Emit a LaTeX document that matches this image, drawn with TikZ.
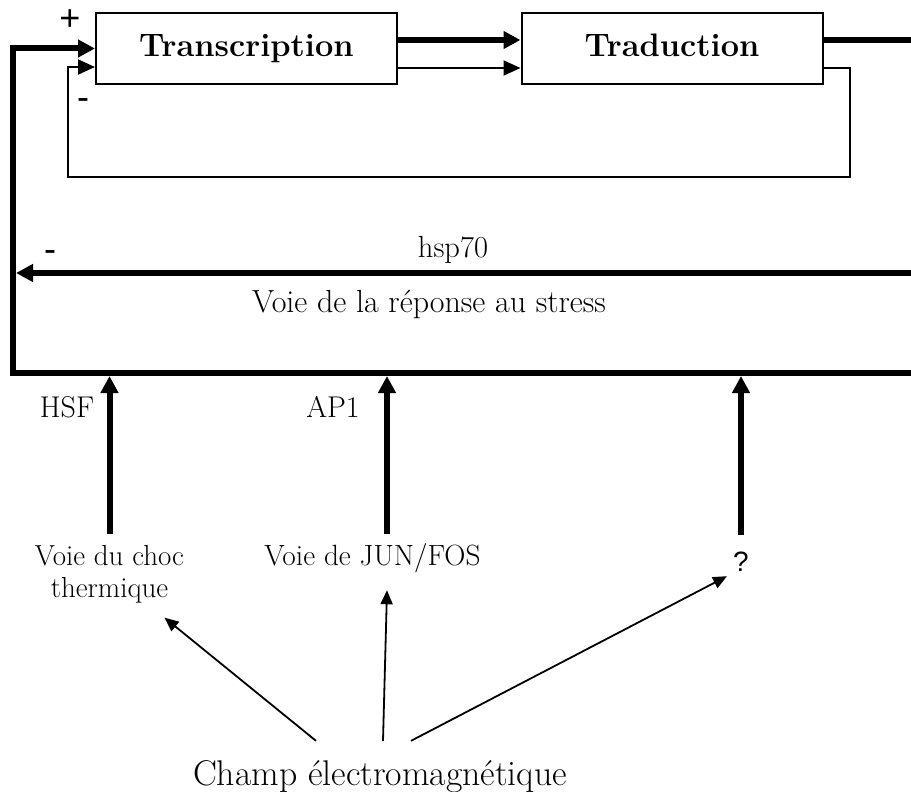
\documentclass[tikz,border=0pt]{standalone}
\usepackage{fontspec}
\newfontfamily\sansf{Liberation Sans}
\usetikzlibrary{arrows.meta,calc}

\begin{document}
\begin{tikzpicture}[x=1pt,y=-1pt,
  box/.style={draw, line width=2pt, minimum width=301pt, minimum height=71pt,
    inner sep=0pt, font=\fontsize{32.5}{38}\selectfont\bfseries,
    text height=22pt, text depth=6pt},
  heavy/.style={line width=6pt},
  heavyarrow/.style={line width=6pt, -{Triangle[length=17pt,width=17pt]}},
  lightarrow/.style={line width=2pt, -{Triangle[length=17pt,width=15pt]}},
  ptarrow/.style={line width=1.8pt, -{Triangle[length=14pt,width=12pt]}},
  lbl/.style={inner sep=0pt, font=\fontsize{29}{32}\selectfont},
  sign/.style={inner sep=0pt, font=\sansf\fontsize{36}{40}\selectfont},
]
\useasboundingbox (0,0) rectangle (911,792);

% the two processing blocks
\node[box] (trans) at (246.5,48.5) {Transcription};
\node[box] (trad)  at (672,48.5)   {Traduction};

% fixed points of the outer loop
\coordinate (outR) at (911,40);
\coordinate (hspR) at (911,273);
\coordinate (hspL) at (16,273);
\coordinate (busR) at (911,373);
\coordinate (busL) at (13,373);
\coordinate (fbR)  at (850,177);
\coordinate (fbL)  at (68,177);
\coordinate (t1)   at (109,376);
\coordinate (t2)   at (387,376);
\coordinate (t3)   at (741,376);

% transcription -> traduction
\draw[heavyarrow] (trans.east |- 0,40) -- (trad.west |- 0,40);
\draw[lightarrow] (trans.east |- 0,68) -- (trad.west |- 0,68);
\draw[heavy] (trad.east |- 0,40) -- (outR);

% inner negative feedback
\draw[lightarrow] (trad.east |- 0,68) -| (fbR) -- (fbL) |- (trans.west |- 0,67);

% stress-response bus back into transcription
\draw[heavyarrow] (busR) -- (busL) |- (trans.west);
\draw[heavyarrow] (hspR) -- (hspL);

% signs
\node[sign] (plus)   at (70,20)   {+};
\node[sign] (minus1) at (83,104)  {-};
\node[sign] (minus2) at (50,256)  {-};

% labels of the loop
\node[lbl, anchor=base, font=\fontsize{30.5}{34}\selectfont] (hsp) at (453,257) {hsp70};
\node[lbl, anchor=base, font=\fontsize{32}{36}\selectfont] (rep) at (429,312) {Voie de la réponse au stress};
\node[lbl, anchor=base, font=\fontsize{30}{34}\selectfont] (hsf) at (67,417)  {HSF};
\node[lbl, anchor=base, font=\fontsize{30}{34}\selectfont] (ap1) at (333,417) {AP1};

% pathways
\node[lbl, anchor=north, align=center] (choc) at (109.5,545) {Voie du choc\\thermique};
\node[lbl, anchor=base, font=\fontsize{29.3}{32}\selectfont] (jun) at (372.5,565) {Voie de JUN/FOS};
\node[lbl, anchor=base, font=\sansf\fontsize{28}{32}\selectfont] (q) at (741,571) {?};

\draw[heavyarrow, shorten <=11pt] (choc.north) -- (choc.north |- t1);
\draw[heavyarrow, shorten <=9pt] (jun.north -| t2) -- (t2);
\draw[heavyarrow, shorten <=16.6pt] (q.north -| t3) -- (t3);

% the field
\node[lbl, anchor=base, font=\fontsize{35.7}{40}\selectfont] (champ) at (380,785) {Champ électromagnétique};

\draw[ptarrow] ($(champ.north)+(-64,-19)$) -- ($(choc.south)+(55,14.5)$);
\draw[ptarrow] ($(champ.north)+(3,-19)$) -- ($(jun.south -| t2)+(0,17.7)$);
\draw[ptarrow] ($(champ.north)+(31,-19)$) -- ($(q.south)+(-14,5)$);
\end{tikzpicture}
\end{document}
